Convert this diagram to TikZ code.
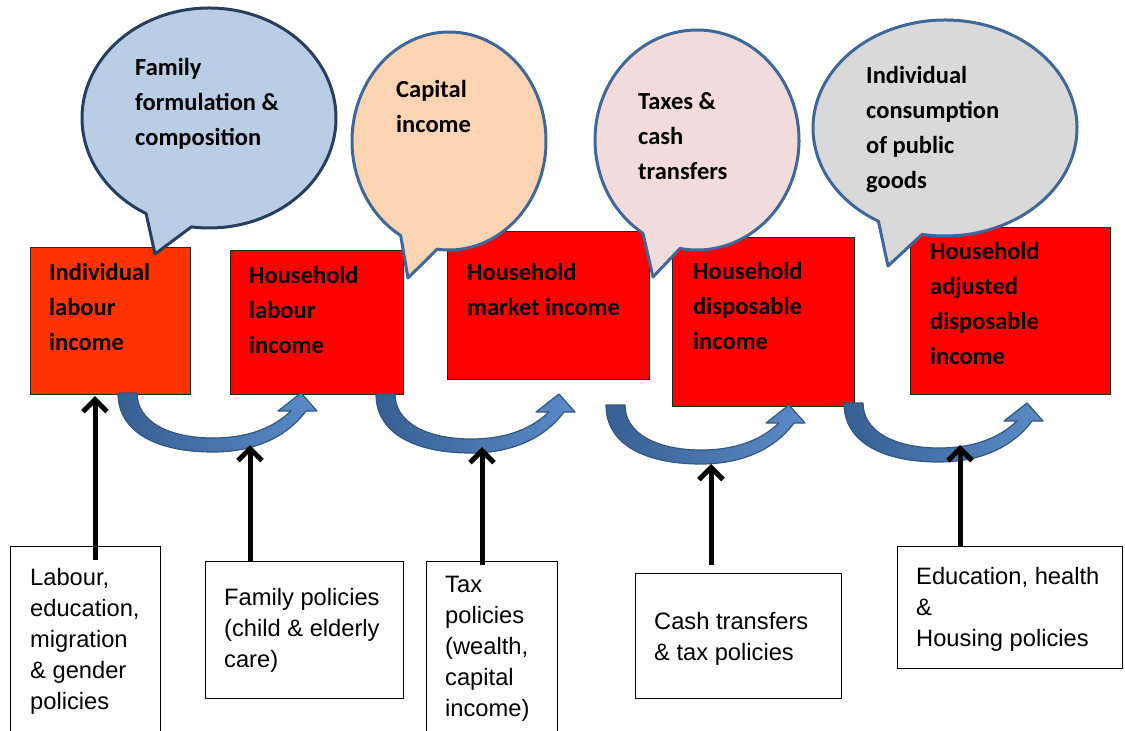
\documentclass[tikz,border=0pt]{standalone}
\usepackage{fontspec}
\setmainfont{Liberation Sans}
\newfontfamily\calibri{Carlito}
\usetikzlibrary{arrows.meta,calc}

\definecolor{labred}{HTML}{FF3300}
\definecolor{incred}{HTML}{FF0000}
\definecolor{famblue}{HTML}{B9CDE5}
\definecolor{capital}{HTML}{FBD4B4}
\definecolor{taxpink}{HTML}{F2DCDB}
\definecolor{pubgrey}{HTML}{D9D9D9}
\definecolor{rimblue}{HTML}{3F6797}
\definecolor{rimnavy}{HTML}{263F5E}
\definecolor{flowdark}{HTML}{385F92}
\definecolor{flowlight}{HTML}{5A8BC8}
\definecolor{flowrim}{HTML}{34577F}

\tikzset{
	incomebox/.style={draw=black!85,line width=1.2pt,anchor=north west,inner sep=0pt},
	incometext/.style={font=\calibri\bfseries\fontsize{24.5}{35}\selectfont,align=left,anchor=north west,inner sep=0pt},
	bubble/.style={draw=rimblue,line width=3pt,line join=round},
	policybox/.style={draw,line width=1.3pt,anchor=north west,inner sep=0pt},
	policytext/.style={font=\fontsize{23.7}{31}\selectfont,align=left,anchor=north west,inner sep=0pt},
	policy/.style={line width=5pt,-{Straight Barb[length=12pt,width=24pt]}},
	flow/.style={left color=flowdark,right color=flowlight,draw=flowrim,line width=1.2pt,line join=round}
}

% bent block arrow from one income stage to the next
\newcommand\bendflow[1]{%
	\draw[flow,shift={#1}] (0,0) -- (19,0) .. controls (19,28) and (50,45) .. (95,45)
		.. controls (130,45) and (155,35) .. (173,18) -- (160,18) -- (183,0) -- (199,18) -- (188,18)
		.. controls (168,45) and (135,59) .. (95,59) .. controls (40,59) and (0,40) .. (0,0) -- cycle;}

\begin{document}
\begin{tikzpicture}[x=1pt,y=-1pt]
	\useasboundingbox (0,0) rectangle (1125,731);
	\clip (0,0) rectangle (1125,731);

	% income stages
	\node[incomebox,fill=labred,minimum width=160,minimum height=147] (ilab) at (30,247) {};
	\node[incomebox,fill=incred,minimum width=173,minimum height=144] (hlab) at (230,250) {};
	\node[incomebox,fill=incred,minimum width=202,minimum height=148] (hmkt) at (447,231) {};
	\node[incomebox,fill=incred,minimum width=182,minimum height=169] (hdisp) at (672,237) {};
	\node[incomebox,fill=incred,minimum width=200,minimum height=167] (hadj) at (910,227) {};
	\node[incometext] (ilab-t) at (49,263.5) {Individual\\labour\\income};
	\node[incometext] (hlab-t) at (249,266.5) {Household\\labour\\income};
	\node[incometext] (hmkt-t) at (467,263.5) {Household\\market income};
	\node[incometext] (hdisp-t) at (693,262.5) {Household\\disposable\\income};
	\node[incometext] (hadj-t) at (930,242.5) {Household\\adjusted\\disposable\\income};

	% speech bubbles
	\draw[bubble,draw=rimnavy,fill=famblue] (209,118) ++(119.7:127 and 110)
		arc[start angle=119.7,end angle=458,x radius=127,y radius=110] -- (155,254) -- cycle;
	\draw[bubble,fill=capital] (449,141) ++(119.9:97 and 109)
		arc[start angle=119.9,end angle=457,x radius=97,y radius=109] -- (408,278) -- cycle;
	\draw[bubble,fill=taxpink] (697,140) ++(122:102 and 110)
		arc[start angle=122,end angle=459.6,x radius=102,y radius=110] -- (653,277) -- cycle;
	\draw[bubble,fill=pubgrey] (945,128) ++(120.3:132 and 108)
		arc[start angle=120.3,end angle=460,x radius=132,y radius=108] -- (888,266) -- cycle;
	\node[incometext] (family) at (135,58.5) {Family\\formulation \&\\composition};
	\node[incometext] (capital) at (396,80.5) {Capital\\income};
	\node[incometext] (taxes) at (638,92.5) {Taxes \&\\cash\\transfers};
	\node[incometext] (public) at (866,66.5) {Individual\\consumption\\of public\\goods};

	\bendflow{(118,393)}
	\bendflow{(376,394)}
	\bendflow{(606,405)}
	\bendflow{(844,403)}

	% policy levers
	\node[policybox,minimum width=150,minimum height=200] (labpol) at (10,546) {};
	\node[policybox,minimum width=198,minimum height=137] (fampol) at (205,561) {};
	\node[policybox,minimum width=131,minimum height=180] (taxpol) at (426,561) {};
	\node[policybox,minimum width=206,minimum height=125] (cashpol) at (635,573) {};
	\node[policybox,minimum width=225,minimum height=122] (servpol) at (897,546) {};
	\node[policytext] (labpol-t) at (30,568) {Labour,\\education,\\migration\\\& gender\\policies};
	\node[policytext] (fampol-t) at (224,588) {Family policies\\(child \& elderly\\care)};
	\node[policytext] (taxpol-t) at (445,576) {Tax\\policies\\(wealth,\\capital\\income)};
	\node[policytext] (cashpol-t) at (654,612) {Cash transfers\\\& tax policies};
	\node[policytext] (servpol-t) at (916,567.5) {Education, health\\\&\\Housing policies};

	\coordinate (t1) at (95,396);
	\coordinate (t2) at (250,445);
	\coordinate (t3) at (482,447);
	\coordinate (t4) at (711,464);
	\coordinate (t5) at (960,445);
	\draw[policy] ($(t1 |- labpol.north)+(0,14)$) -- (t1);
	\draw[policy] (t2 |- fampol.north) -- (t2);
	\draw[policy] ($(t3 |- taxpol.north)+(0,4)$) -- (t3);
	\draw[policy] ($(t4 |- cashpol.north)+(0,-8)$) -- (t4);
	\draw[policy] (t5 |- servpol.north) -- (t5);
\end{tikzpicture}
\end{document}
